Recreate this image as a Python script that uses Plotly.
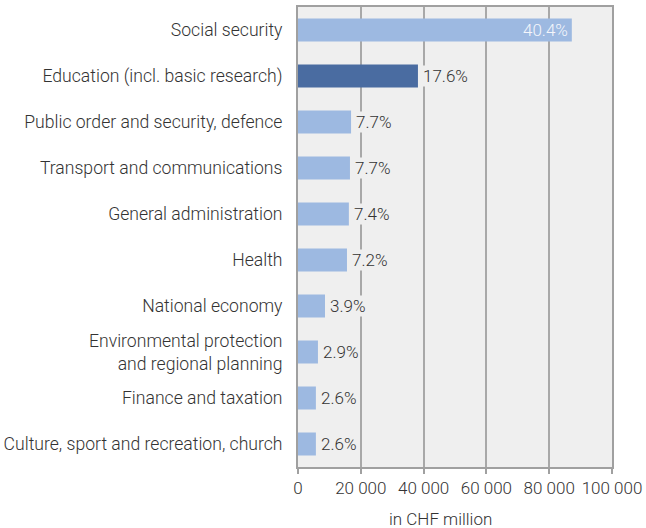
import plotly.graph_objects as go

categories = [
    "Social security",
    "Education (incl. basic research)",
    "Public order and security, defence",
    "Transport and communications",
    "General administration",
    "Health",
    "National economy",
    "Environmental protection<br>and regional planning",
    "Finance and taxation",
    "Culture, sport and recreation, church",
]
values = [87200, 38200, 16900, 16550, 16200, 15600, 8600, 6350, 5700, 5700]
shares = ["40.4%", "17.6%", "7.7%", "7.7%", "7.4%", "7.2%", "3.9%", "2.9%", "2.6%", "2.6%"]
x_ticks = [0, 20000, 40000, 60000, 80000, 100000]
x_tick_labels = ["0", "20 000", "40 000", "60 000", "80 000", "100 000"]
x_title = "in CHF million"

light = "#9db9e1"
dark = "#4a6ca1"
plot_bg = "#efefef"
colors = [dark if c.startswith("Education") else light for c in categories]

FONT = "Roboto"
TXT = "#333333"

fig = go.Figure(
    go.Bar(
        y=categories,
        x=values,
        orientation="h",
        marker=dict(color=colors, line=dict(width=0)),
        width=0.5,
        hoverinfo="skip",
    )
)

# Share labels: the largest sits inside its bar, the rest just past the bar end
# on a plot-coloured box so gridlines do not run through the text.
for i, (cat, val, share) in enumerate(zip(categories, values, shares)):
    inside = i == 0
    fig.add_annotation(
        x=val,
        y=cat,
        xref="x",
        yref="y",
        text=share,
        showarrow=False,
        xanchor="right" if inside else "left",
        xshift=-3 if inside else 4,
        bgcolor=None if inside else plot_bg,
        borderpad=0,
        font=dict(family=FONT, size=17, color="#f4f6fb" if inside else TXT, weight=300),
    )

# Axis caption below the tick labels
fig.add_annotation(
    x=0.5,
    y=0,
    xref="paper",
    yref="paper",
    text=x_title,
    showarrow=False,
    xanchor="center",
    yanchor="middle",
    xshift=-15,
    yshift=-52,
    font=dict(family=FONT, size=17, color=TXT, weight=300),
)

fig.update_layout(
    width=646,
    height=528,
    margin=dict(l=298, r=34, t=7, b=61),
    paper_bgcolor="white",
    plot_bgcolor=plot_bg,
    showlegend=False,
    font=dict(family=FONT, size=17, color=TXT, weight=300),
    bargap=0.5,
)

fig.update_xaxes(
    range=[0, 100000],
    tickvals=x_ticks,
    ticktext=x_tick_labels,
    automargin=False,
    showgrid=True,
    gridcolor="#a8a8a8",
    gridwidth=1.5,
    zeroline=False,
    showline=True,
    linecolor="#a0a0a0",
    linewidth=2,
    mirror=True,
    ticks="outside",
    ticklen=5,
    tickcolor="#a0a0a0",
    tickwidth=1.5,
    tickfont=dict(family=FONT, size=17, color=TXT, weight=300),
    fixedrange=True,
)

fig.update_yaxes(
    categoryorder="array",
    categoryarray=categories[::-1],
    range=[-0.5, len(categories) - 0.5],
    automargin=False,
    showgrid=False,
    zeroline=False,
    showline=True,
    linecolor="#a0a0a0",
    linewidth=2,
    mirror=True,
    ticks="",
    ticklabelstandoff=10,
    tickfont=dict(family=FONT, size=17.6, color=TXT, weight=300),
    fixedrange=True,
)

fig.write_html("out.html")
